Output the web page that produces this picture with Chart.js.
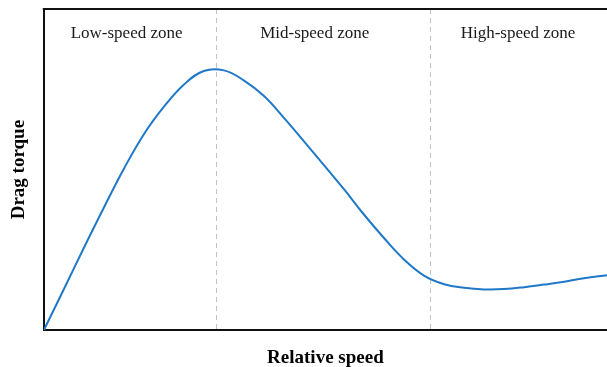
<!DOCTYPE html>
<html>
<head>
    <title>Drag torque vs relative speed</title>
    <style>
        body { margin: 0; background: #fff; }
        #chartBox { width: 607px; height: 367px; }
    </style>
    <script src="https://cdn.jsdelivr.net/npm/chart.js"></script>
</head>
<body>
    <div id="chartBox">
        <canvas id="chart1"></canvas>
    </div>

    <script>
        // curve (relative units, 0-10 on both axes)
        var speed = [0, 0.36, 0.71, 1.07, 1.42, 1.78, 2.13, 2.49, 2.84, 3.20,
                     3.55, 3.91, 4.26, 4.62, 4.97, 5.33, 5.68, 6.04, 6.39, 6.75,
                     7.11, 7.46, 7.82, 8.17, 8.53, 8.88, 9.24, 9.59, 10];
        var torque = [0, 1.29, 2.56, 3.83, 5.02, 6.11, 6.95, 7.65, 8.07, 8.09,
                      7.78, 7.29, 6.62, 5.88, 5.15, 4.39, 3.61, 2.87, 2.21, 1.70,
                      1.43, 1.32, 1.27, 1.28, 1.34, 1.42, 1.51, 1.62, 1.71];

        var zoneBounds = [3.05, 6.86];
        var zoneLabels = ['Low-speed zone', 'Mid-speed zone', 'High-speed zone'];
        var zoneLabelX = [1.47, 4.81, 8.42];

        var points = speed.map(function(s, i) {
            return { x: s, y: torque[i] };
        });

        // dashed zone separators, zone names and the top frame line
        var zonePlugin = {
            id: 'zones',
            beforeDatasetsDraw: function(chart) {
                var ctx = chart.ctx;
                var area = chart.chartArea;
                var xs = chart.scales.x;
                ctx.save();
                ctx.strokeStyle = '#c2c2c2';
                ctx.lineWidth = 1;
                ctx.setLineDash([5, 4]);
                zoneBounds.forEach(function(b) {
                    var px = Math.round(xs.getPixelForValue(b)) + 0.5;
                    ctx.beginPath();
                    ctx.moveTo(px, area.top);
                    ctx.lineTo(px, area.bottom);
                    ctx.stroke();
                });
                ctx.setLineDash([]);
                ctx.fillStyle = '#1a1a1a';
                ctx.font = '17px "Liberation Serif"';
                ctx.textAlign = 'center';
                ctx.textBaseline = 'middle';
                zoneLabels.forEach(function(t, i) {
                    ctx.fillText(t, xs.getPixelForValue(zoneLabelX[i]), area.top + 25);
                });
                ctx.restore();
            },
            afterDraw: function(chart) {
                var ctx = chart.ctx;
                var area = chart.chartArea;
                ctx.save();
                ctx.strokeStyle = '#111';
                ctx.lineWidth = 2;
                ctx.beginPath();
                ctx.moveTo(area.left - 1, area.top);
                ctx.lineTo(area.right, area.top);
                ctx.stroke();
                ctx.restore();
            }
        };

        var chart1 = new Chart(document.getElementById('chart1').getContext('2d'), {
            type: 'line',
            data: {
                datasets: [{
                    label: 'Drag torque',
                    data: points,
                    borderColor: '#1f78c8',
                    borderWidth: 2,
                    pointRadius: 0,
                    fill: false,
                    tension: 0.4
                }]
            },
            options: {
                responsive: true,
                maintainAspectRatio: false,
                animation: false,
                layout: { padding: { top: 9, right: 0, left: 0, bottom: 0 } },
                plugins: {
                    legend: { display: false },
                    tooltip: { enabled: false }
                },
                scales: {
                    x: {
                        type: 'linear',
                        min: 0,
                        max: 10,
                        grid: { display: false },
                        ticks: { display: false },
                        border: { display: true, color: '#111', width: 2 },
                        title: {
                            display: true,
                            text: 'Relative speed',
                            color: '#000',
                            font: { family: '"Liberation Serif"', size: 19, weight: 'bold' },
                            padding: { top: 8, bottom: -2 }
                        }
                    },
                    y: {
                        min: 0,
                        max: 10,
                        grid: { display: false },
                        ticks: { display: false },
                        border: { display: true, color: '#111', width: 2 },
                        title: {
                            display: true,
                            text: 'Drag torque',
                            color: '#000',
                            font: { family: '"Liberation Serif"', size: 19, weight: 'bold' },
                            padding: { top: 8, bottom: 5 }
                        }
                    }
                }
            },
            plugins: [zonePlugin]
        });
    </script>
</body>
</html>
